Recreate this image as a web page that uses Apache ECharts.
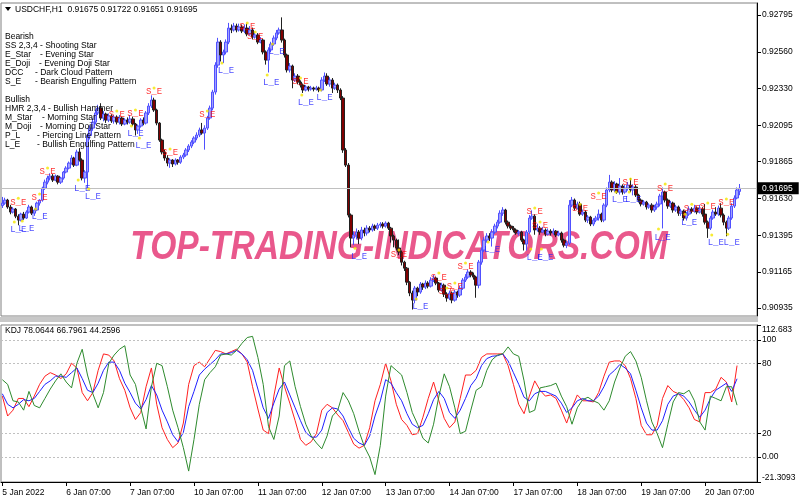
<!DOCTYPE html>
<html><head><meta charset="utf-8">
<script src="https://cdn.jsdelivr.net/npm/echarts@6/dist/echarts.min.js"></script>
<style>html,body{margin:0;padding:0;background:#fff}#c{width:800px;height:500px}</style>
</head><body><div id="c"></div>
<script>
const symbolName = 'USDCHF,H1';
const lastBarText = ['0.91675', '0.91722', '0.91651', '0.91695'];
const timeLabels = ['5 Jan 2022','6 Jan 07:00','7 Jan 07:00','10 Jan 07:00','11 Jan 07:00','12 Jan 07:00','13 Jan 07:00','14 Jan 07:00','17 Jan 07:00','18 Jan 07:00','19 Jan 07:00','20 Jan 07:00'];
const labelEvery = 24;
const slotCount = 284;
const priceMin = 0.908842, priceMax = 0.928712;
const priceTicks = [0.92795,0.92560,0.92330,0.92095,0.91865,0.91630,0.91395,0.91165,0.90935];
const kdjMin = -21.3093, kdjMax = 112.683;
const kdjTicks = [112.683,100,80,20,0,-21.3093];
const kdjLevels = [100,80,20,0];
const kdjLast = [78.0644, 66.7961, 44.2596];
const kdjStep = 2;

const opens = [
0.91585,0.91601,0.91620,0.91576,0.91544,0.91563,0.91518,0.91493,0.91531,0.91506,
0.91544,0.91576,0.91537,0.91557,0.91601,0.91620,0.91696,0.91734,0.91760,0.91772,
0.91747,0.91772,0.91734,0.91760,0.91798,0.91823,0.91855,0.91887,0.91842,0.91925,
0.91874,0.91760,0.91798,0.92030,0.92077,0.92115,0.92173,0.92204,0.92141,0.92166,
0.92128,0.92154,0.92122,0.92147,0.92115,0.92141,0.92103,0.92128,0.92115,0.92135,
0.92103,0.92065,0.92090,0.92128,0.92109,0.92173,0.92217,0.92255,0.92192,0.92109,
0.92001,0.91925,0.91887,0.91855,0.91874,0.91849,0.91874,0.91861,0.91893,0.91906,
0.91938,0.91963,0.91988,0.92014,0.92033,0.92065,0.92046,0.92077,0.92141,0.92204,
0.92306,0.92477,0.92623,0.92541,0.92560,0.92623,0.92712,0.92700,0.92725,0.92700,
0.92719,0.92693,0.92712,0.92674,0.92700,0.92655,0.92668,0.92623,0.92636,0.92560,
0.92509,0.92573,0.92611,0.92649,0.92681,0.92700,0.92636,0.92541,0.92446,0.92471,
0.92382,0.92407,0.92369,0.92350,0.92319,0.92338,0.92325,0.92331,0.92325,0.92331,
0.92319,0.92382,0.92407,0.92357,0.92382,0.92331,0.92350,0.92319,0.92268,0.91938,
0.91842,0.91525,0.91379,0.91398,0.91417,0.91379,0.91430,0.91411,0.91442,0.91430,
0.91455,0.91442,0.91461,0.91468,0.91455,0.91474,0.91442,0.91392,0.91366,0.91316,
0.91290,0.91226,0.91188,0.91099,0.91030,0.90985,0.91061,0.91036,0.91087,0.91068,
0.91093,0.91074,0.91112,0.91125,0.91093,0.91049,0.91080,0.91023,0.90998,0.91030,
0.90985,0.91036,0.91017,0.91061,0.91112,0.91131,0.91163,0.91144,0.91131,0.91080,
0.91226,0.91303,0.91366,0.91392,0.91379,0.91417,0.91455,0.91480,0.91537,0.91557,
0.91480,0.91455,0.91442,0.91430,0.91411,0.91417,0.91366,0.91341,0.91417,0.91506,
0.91518,0.91430,0.91442,0.91417,0.91430,0.91404,0.91423,0.91411,0.91423,0.91398,
0.91411,0.91366,0.91334,0.91347,0.91588,0.91620,0.91569,0.91595,0.91531,0.91544,
0.91493,0.91512,0.91468,0.91493,0.91506,0.91531,0.91493,0.91588,0.91684,0.91734,
0.91684,0.91722,0.91671,0.91709,0.91671,0.91696,0.91715,0.91684,0.91703,0.91652,
0.91620,0.91595,0.91607,0.91576,0.91588,0.91557,0.91576,0.91595,0.91646,0.91671,
0.91620,0.91582,0.91601,0.91557,0.91576,0.91537,0.91550,0.91506,0.91531,0.91563,
0.91550,0.91569,0.91544,0.91563,0.91531,0.91480,0.91442,0.91506,0.91544,0.91531,
0.91569,0.91525,0.91480,0.91442,0.91506,0.91582,0.91633,0.91675];
const highs = [
0.91640,0.91635,0.91628,0.91590,0.91575,0.91570,0.91530,0.91540,0.91545,0.91555,
0.91590,0.91585,0.91565,0.91610,0.91625,0.91705,0.91750,0.91775,0.91790,0.91785,
0.91782,0.91778,0.91768,0.91805,0.91835,0.91865,0.91905,0.91895,0.91940,0.91950,
0.91885,0.91810,0.92040,0.92095,0.92140,0.92195,0.92225,0.92235,0.92185,0.92175,
0.92170,0.92165,0.92160,0.92158,0.92160,0.92150,0.92140,0.92145,0.92160,0.92150,
0.92110,0.92100,0.92140,0.92145,0.92185,0.92235,0.92285,0.92270,0.92200,0.92115,
0.92010,0.91940,0.91905,0.91885,0.91880,0.91885,0.91880,0.91905,0.91920,0.91950,
0.91975,0.92000,0.92025,0.92050,0.92080,0.92110,0.92095,0.92155,0.92220,0.92320,
0.92495,0.92650,0.92635,0.92575,0.92640,0.92745,0.92735,0.92745,0.92740,0.92740,
0.92735,0.92735,0.92740,0.92725,0.92715,0.92690,0.92680,0.92655,0.92645,0.92570,
0.92590,0.92625,0.92665,0.92700,0.92715,0.92780,0.92645,0.92550,0.92490,0.92480,
0.92425,0.92420,0.92380,0.92360,0.92350,0.92345,0.92345,0.92340,0.92345,0.92340,
0.92400,0.92430,0.92425,0.92400,0.92395,0.92365,0.92360,0.92330,0.92280,0.91950,
0.91855,0.91535,0.91420,0.91440,0.91430,0.91450,0.91445,0.91460,0.91455,0.91470,
0.91465,0.91475,0.91480,0.91480,0.91485,0.91482,0.91450,0.91400,0.91375,0.91370,
0.91300,0.91235,0.91195,0.91105,0.91045,0.91075,0.91070,0.91100,0.91095,0.91110,
0.91105,0.91130,0.91145,0.91135,0.91100,0.91095,0.91090,0.91035,0.91045,0.91040,
0.91050,0.91045,0.91075,0.91125,0.91150,0.91180,0.91175,0.91160,0.91140,0.91240,
0.91320,0.91385,0.91410,0.91410,0.91435,0.91470,0.91495,0.91555,0.91575,0.91565,
0.91490,0.91465,0.91455,0.91440,0.91430,0.91425,0.91375,0.91430,0.91525,0.91555,
0.91530,0.91470,0.91455,0.91450,0.91440,0.91440,0.91435,0.91440,0.91430,0.91425,
0.91420,0.91375,0.91360,0.91620,0.91640,0.91630,0.91610,0.91610,0.91560,0.91555,
0.91525,0.91520,0.91505,0.91520,0.91560,0.91540,0.91600,0.91700,0.91780,0.91745,
0.91740,0.91730,0.91760,0.91720,0.91715,0.91735,0.91760,0.91720,0.91715,0.91660,
0.91630,0.91620,0.91615,0.91600,0.91600,0.91590,0.91610,0.91660,0.91700,0.91680,
0.91630,0.91615,0.91610,0.91590,0.91585,0.91565,0.91560,0.91545,0.91580,0.91575,
0.91590,0.91580,0.91590,0.91575,0.91595,0.91490,0.91520,0.91560,0.91575,0.91585,
0.91600,0.91535,0.91490,0.91520,0.91600,0.91650,0.91700,0.91722];
const lows = [
0.91570,0.91590,0.91565,0.91530,0.91535,0.91505,0.91460,0.91485,0.91495,0.91500,
0.91535,0.91525,0.91520,0.91550,0.91585,0.91610,0.91685,0.91720,0.91745,0.91735,
0.91740,0.91720,0.91722,0.91750,0.91790,0.91815,0.91845,0.91830,0.91835,0.91865,
0.91745,0.91730,0.91690,0.92005,0.92060,0.92100,0.92160,0.92128,0.92120,0.92110,
0.92115,0.92110,0.92105,0.92100,0.92100,0.92090,0.92095,0.92100,0.92105,0.92090,
0.92030,0.92040,0.92080,0.92095,0.92100,0.92160,0.92205,0.92180,0.92095,0.91990,
0.91910,0.91870,0.91835,0.91825,0.91830,0.91840,0.91845,0.91850,0.91880,0.91895,
0.91925,0.91950,0.91975,0.92000,0.92020,0.92035,0.91940,0.92065,0.92130,0.92190,
0.92290,0.92460,0.92500,0.92490,0.92545,0.92610,0.92680,0.92690,0.92685,0.92690,
0.92680,0.92680,0.92660,0.92665,0.92640,0.92645,0.92610,0.92615,0.92545,0.92480,
0.92430,0.92560,0.92600,0.92635,0.92670,0.92620,0.92525,0.92430,0.92430,0.92330,
0.92370,0.92355,0.92335,0.92300,0.92310,0.92310,0.92315,0.92310,0.92315,0.92305,
0.92310,0.92370,0.92345,0.92340,0.92300,0.92320,0.92300,0.92255,0.91920,0.91830,
0.91510,0.91320,0.91335,0.91370,0.91340,0.91365,0.91390,0.91395,0.91415,0.91420,
0.91425,0.91430,0.91445,0.91440,0.91445,0.91430,0.91350,0.91320,0.91300,0.91270,
0.91205,0.91170,0.91080,0.91010,0.90925,0.90965,0.91010,0.91025,0.91050,0.91055,
0.91060,0.91065,0.91100,0.91080,0.91035,0.91040,0.91005,0.90975,0.90985,0.90965,
0.90975,0.91000,0.91005,0.91050,0.91100,0.91120,0.91130,0.91115,0.91000,0.91060,
0.91210,0.91290,0.91350,0.91360,0.91325,0.91405,0.91440,0.91470,0.91520,0.91465,
0.91440,0.91430,0.91415,0.91400,0.91395,0.91355,0.91300,0.91300,0.91405,0.91495,
0.91400,0.91420,0.91400,0.91410,0.91390,0.91395,0.91395,0.91400,0.91385,0.91390,
0.91350,0.91320,0.91315,0.91335,0.91575,0.91555,0.91560,0.91520,0.91520,0.91480,
0.91475,0.91455,0.91455,0.91480,0.91490,0.91480,0.91480,0.91575,0.91670,0.91670,
0.91670,0.91660,0.91655,0.91655,0.91660,0.91680,0.91670,0.91650,0.91640,0.91605,
0.91580,0.91585,0.91560,0.91565,0.91540,0.91545,0.91560,0.91580,0.91440,0.91605,
0.91565,0.91570,0.91540,0.91545,0.91520,0.91520,0.91490,0.91490,0.91520,0.91535,
0.91540,0.91530,0.91535,0.91515,0.91465,0.91380,0.91430,0.91495,0.91520,0.91520,
0.91510,0.91460,0.91390,0.91430,0.91495,0.91570,0.91625,0.91651];
const closes = [
0.91601,0.91620,0.91576,0.91544,0.91563,0.91518,0.91493,0.91531,0.91506,0.91544,
0.91576,0.91537,0.91557,0.91601,0.91620,0.91696,0.91734,0.91760,0.91772,0.91747,
0.91772,0.91734,0.91760,0.91798,0.91823,0.91855,0.91887,0.91842,0.91925,0.91874,
0.91760,0.91798,0.92030,0.92077,0.92115,0.92173,0.92204,0.92141,0.92166,0.92128,
0.92154,0.92122,0.92147,0.92115,0.92141,0.92103,0.92128,0.92115,0.92135,0.92103,
0.92065,0.92090,0.92128,0.92109,0.92173,0.92217,0.92255,0.92192,0.92109,0.92001,
0.91925,0.91887,0.91855,0.91874,0.91849,0.91874,0.91861,0.91893,0.91906,0.91938,
0.91963,0.91988,0.92014,0.92033,0.92065,0.92046,0.92077,0.92141,0.92204,0.92306,
0.92477,0.92623,0.92541,0.92560,0.92623,0.92712,0.92700,0.92725,0.92700,0.92719,
0.92693,0.92712,0.92674,0.92700,0.92655,0.92668,0.92623,0.92636,0.92560,0.92509,
0.92573,0.92611,0.92649,0.92681,0.92700,0.92636,0.92541,0.92446,0.92471,0.92382,
0.92407,0.92369,0.92350,0.92319,0.92338,0.92325,0.92331,0.92325,0.92331,0.92319,
0.92382,0.92407,0.92357,0.92382,0.92331,0.92350,0.92319,0.92268,0.91938,0.91842,
0.91525,0.91379,0.91398,0.91417,0.91379,0.91430,0.91411,0.91442,0.91430,0.91455,
0.91442,0.91461,0.91468,0.91455,0.91474,0.91442,0.91392,0.91366,0.91316,0.91290,
0.91226,0.91188,0.91099,0.91030,0.90985,0.91061,0.91036,0.91087,0.91068,0.91093,
0.91074,0.91112,0.91125,0.91093,0.91049,0.91080,0.91023,0.90998,0.91030,0.90985,
0.91036,0.91017,0.91061,0.91112,0.91131,0.91163,0.91144,0.91131,0.91080,0.91226,
0.91303,0.91366,0.91392,0.91379,0.91417,0.91455,0.91480,0.91537,0.91557,0.91480,
0.91455,0.91442,0.91430,0.91411,0.91417,0.91366,0.91341,0.91417,0.91506,0.91518,
0.91430,0.91442,0.91417,0.91430,0.91404,0.91423,0.91411,0.91423,0.91398,0.91411,
0.91366,0.91334,0.91347,0.91588,0.91620,0.91569,0.91595,0.91531,0.91544,0.91493,
0.91512,0.91468,0.91493,0.91506,0.91531,0.91493,0.91588,0.91684,0.91734,0.91684,
0.91722,0.91671,0.91709,0.91671,0.91696,0.91715,0.91684,0.91703,0.91652,0.91620,
0.91595,0.91607,0.91576,0.91588,0.91557,0.91576,0.91595,0.91646,0.91671,0.91620,
0.91582,0.91601,0.91557,0.91576,0.91537,0.91550,0.91506,0.91531,0.91563,0.91550,
0.91569,0.91544,0.91563,0.91531,0.91480,0.91442,0.91506,0.91544,0.91531,0.91569,
0.91525,0.91480,0.91442,0.91506,0.91582,0.91633,0.91684,0.91695];

// KDJ values sampled every kdjStep bars
const kValues = [
52,35,40,50,50,43,52,62,69,72, 70,67,71,80,76,55,48,55,74,88,
87,82,67,57,42,32,38,60,76,45, 25,15,8,12,29,62,78,81,77,84,
91,90,88,90,92,88,81,60,41,23, 20,52,76,60,46,31,15,10,13,20,
40,45,42,36,31,21,11,7.6,10,25, 48,62,80,65,45,32,27,19,20,34,
50,64,48,33,25,30,50,70,70,74, 85,88,88,88,88,78,62,45,37,52,
65,57,52,53,50,40,29,42,53,48, 48,47,55,69,81,82,82,78,67,50,
27,19,19,27,50,61,56,54,49,42, 32,30,55,55,58,68,64,47,78.0644];
const dValues = [
54,45,42,45,49,48,50,56,62,65, 69,69,68,72,76,67,57,55,63,74,
81,81,74,63,55,46,41,49,61,53, 40,30,19,13,21,43,56,70,75,79,
83,88,88,89,91,88,83,74,58,42, 33,46,58,64,53,42,31,21,17,17,
23,38,42,41,35,25,16,12,10,18, 35,48,66,63,55,48,37,28,25,27,
37,49,56,50,38,33,40,50,61,67, 78,84,86,86.5,88,82,72,62,51,48,
54,56,56,54,52,46,38,42,48,50, 48,48,52,60,70,74,79,76,71,57,
42,29,23,23,31,45,52,54,52,47, 40,34,40,50,57,60,63,56,66.7961];
const jValues = [
66,62,48,47,40,56,44,42,50,58, 65,71,64,59,80,92,70,54,42,55,
80,87,92,95,70,62,42,24,60,80, 78,60,40,25,8,-12,15,45,66,72,
77,87,88,87,91,97,102,103,85,62, 26,15,35,78,82,60,43,28,18,12,
7,18,35,40,55,48,37,22,9,0, -15,10,52,78,74,70,55,38,28,16,
12,28,52,71,60,42,20,22,40,57, 60,74,83,87,88,94,88,86,65,38,
40,59,60,61,63,52,43,28,42,49, 51,48,46,40,48,64,76,86,90,82,
68,48,30,20,8,28,47,55,54,57, 48,30,23,52,50,48,60,60,44.2596];

// pattern markers (bar index, price of label)
const seBars = [6,14,17,43,50,57,63,77,92,95,112,149,164,167,170,174,200,202,217,224,236,249,259,265,272];
const sePrices = [0.91607,0.91633,0.91798,0.92160,0.92166,0.92306,0.91919,0.92160,0.92719,0.92661,0.92369,0.91277,0.91131,0.91036,0.91068,0.91195,0.91544,0.91455,0.91569,0.91639,0.91728,0.91696,0.91569,0.91576,0.91601];
const leBars = [6,9,14,30,34,50,53,84,101,103,114,121,134,157,184,200,204,232,237,248,258,268,274];
const lePrices = [0.91430,0.91436,0.91512,0.91696,0.91639,0.92039,0.91963,0.92439,0.92363,0.92560,0.92236,0.92268,0.91264,0.90941,0.91303,0.91258,0.91258,0.91620,0.91620,0.91385,0.91480,0.91347,0.91353];

const bearishRows = [['Bearish',''],['SS 2,3,4 - Shooting Star',''],['E_Star','- Evening Star'],['E_Doji','- Evening Doji Star'],['DCC','- Dark Cloud Pattern'],['S_E','- Bearish Engulfing Pattern']];
const bullishRows = [['Bullish',''],['HMR 2,3,4 - Bullish Hammer',''],['M_Star','- Morning Star'],['M_Doji','- Morning Doji Star'],['P_L','- Piercing Line Pattern'],['L_E','- Bullish Engulfing Pattern']];
const watermark = 'TOP-TRADING-INDICATORS.COM';

const chart = echarts.init(document.getElementById('c'), null, {renderer: 'canvas'});
const lastIdx = closes.length - 1;
const lastClose = closes[lastIdx];
const cats = Array.from({length: slotCount}, (_, i) => String(i));
const candles = opens.map((o, i) => [o, closes[i], lows[i], highs[i]]);
const showTick = (i) => i % labelEvery === 0 && (i / labelEvery) < timeLabels.length;
const toPts = (arr) => arr.map((v, k) => [k * kdjStep, v]);
const FONT = '"Liberation Sans", Arial, sans-serif';
const FS = 8.5;

const txt = (x, y, s, extra) => ({
  type: 'text', x: x, y: y, silent: true, z: 50,
  style: Object.assign({text: s, fill: '#000', font: FS + 'px ' + FONT, textVerticalAlign: 'middle', verticalAlign: 'middle'}, extra || {})
});

const graphics = [];
graphics.push({type: 'rect', silent: true, z: 0, shape: {x: 0, y: 317, width: 758, height: 5}, style: {fill: '#c8c8c8'}});
graphics.push({type: 'text', x: 399, y: 248, silent: true, z: 1, scaleX: 0.84,
  style: {text: watermark, fill: '#e9588c', font: 'italic bold 40px ' + FONT, textAlign: 'center', align: 'center', textVerticalAlign: 'middle', verticalAlign: 'middle'}});
graphics.push({type: 'polygon', silent: true, z: 50, shape: {points: [[5, 7], [11, 7], [8, 11]]}, style: {fill: '#000'}});
graphics.push(txt(15, 9.5, symbolName + '  ' + lastBarText.join(' ')));
const bearDash = [0, 0, 40, 39, 35, 35];
const bullDash = [0, 0, 42, 40, 37, 37];
bearishRows.forEach((r, k) => {
  graphics.push(txt(5, 36.5 + k * 9, r[0]));
  if (r[1]) graphics.push(txt(bearDash[k], 36.5 + k * 9, r[1]));
});
bullishRows.forEach((r, k) => {
  graphics.push(txt(5, 99.3 + k * 9, r[0]));
  if (r[1]) graphics.push(txt(bullDash[k], 99.3 + k * 9, r[1]));
});
graphics.push(txt(5, 331, 'KDJ ' + kdjLast.map(v => v.toFixed(4)).join(' ')));

const markerLabel = (name, bars, prices, color, dotOff, extra) => [
  Object.assign({type: 'scatter', xAxisIndex: 0, yAxisIndex: 0, silent: true, z: 6,
   data: bars.map((b, i) => [b, prices[i]]), symbol: 'circle', symbolSize: 0,
   label: {show: true, position: 'inside', formatter: name, color: color, fontFamily: '"Liberation Mono", monospace', fontSize: 9}}, extra || {}),
  {type: 'scatter', xAxisIndex: 0, yAxisIndex: 0, silent: true, z: 7,
   data: bars.map((b, i) => [b, prices[i]]), symbol: 'circle', symbolSize: 3, symbolOffset: dotOff,
   itemStyle: {color: '#f5e600'}}
];

const priceLine = {
  markLine: {silent: true, symbol: 'none', animation: false, precision: 5,
    data: [{yAxis: lastClose}],
    lineStyle: {color: '#c0c0c0', type: 'solid', width: 1},
    label: {show: true, position: 'end', distance: 1, formatter: () => lastClose.toFixed(5),
      backgroundColor: '#000', color: '#fff', padding: [2, 6, 1, 4], fontSize: FS, fontFamily: FONT}}
};

const option = {
  animation: false,
  backgroundColor: '#fff',
  graphic: graphics,
  grid: [
    {left: 1, right: 43, top: 3, height: 313, show: true, borderColor: '#808080', borderWidth: 1, outerBoundsMode: 'none', containLabel: false},
    {left: 1, right: 43, top: 325, height: 157, show: true, borderColor: '#808080', borderWidth: 1, outerBoundsMode: 'none', containLabel: false}
  ],
  xAxis: [
    {type: 'category', gridIndex: 0, data: cats, boundaryGap: true,
     axisLine: {show: false, onZero: false}, axisTick: {show: false}, axisLabel: {show: false}, splitLine: {show: false}},
    {type: 'category', gridIndex: 1, data: cats, boundaryGap: true,
     axisLine: {show: true, onZero: false, lineStyle: {color: '#000', width: 1}},
     axisTick: {show: true, interval: showTick, alignWithLabel: true, length: 4, lineStyle: {color: '#000'}},
     axisLabel: {show: true, interval: showTick, formatter: (v, i) => timeLabels[Math.round(i / labelEvery)],
       align: 'left', margin: 6, color: '#000', fontSize: FS, fontFamily: FONT},
     splitLine: {show: false}}
  ],
  yAxis: [
    {type: 'value', gridIndex: 0, position: 'right', min: priceMin, max: priceMax, scale: true,
     axisLine: {show: true, lineStyle: {color: '#000'}},
     axisTick: {show: true, customValues: priceTicks, length: 4, lineStyle: {color: '#000'}},
     axisLabel: {show: true, customValues: priceTicks, formatter: v => v.toFixed(5), color: '#000', fontSize: FS, fontFamily: FONT, margin: 5},
     splitLine: {show: false}},
    {type: 'value', gridIndex: 1, position: 'right', min: kdjMin, max: kdjMax,
     axisLine: {show: true, lineStyle: {color: '#000'}},
     axisTick: {show: true, customValues: kdjTicks, length: 4, lineStyle: {color: '#000'}},
     axisLabel: {show: true, customValues: kdjTicks, color: '#000', fontSize: FS, fontFamily: FONT, margin: 5,
       formatter: v => {
         if (v === kdjTicks[0]) return '{t|' + v + '}';
         if (v === kdjTicks[kdjTicks.length - 1]) return '{b|' + v + '}';
         return v === 0 ? '0.00' : String(v);
       },
       rich: {t: {padding: [10, 0, 0, 0], fontSize: FS, fontFamily: FONT, color: '#000'},
              b: {padding: [0, 0, 8, 0], fontSize: FS, fontFamily: FONT, color: '#000'}}},
     splitLine: {show: false}}
  ],
  series: [
    {type: 'candlestick', xAxisIndex: 0, yAxisIndex: 0, data: candles, barWidth: 3, z: 3,
     itemStyle: {color: '#a0a0ff', color0: '#800000', borderColor: '#5050ff', borderColor0: '#202020', borderWidth: 1}},
    ...markerLabel('S_E', seBars, sePrices, '#ff0000', [0, -4], priceLine),
    ...markerLabel('L_E', leBars, lePrices, '#2020ff', [-4, -8]),
    {type: 'line', name: 'K', xAxisIndex: 1, yAxisIndex: 1, data: toPts(kValues), showSymbol: false, symbol: 'none',
     lineStyle: {color: '#ff2020', width: 1}, z: 3,
     markLine: {silent: true, symbol: 'none', animation: false, precision: 2, label: {show: false},
       lineStyle: {color: '#c0c0c0', type: [2, 2], width: 1},
       data: kdjLevels.map(v => ({yAxis: v}))}},
    {type: 'line', name: 'D', xAxisIndex: 1, yAxisIndex: 1, data: toPts(dValues), showSymbol: false, symbol: 'none',
     lineStyle: {color: '#2020ff', width: 1}, z: 4},
    {type: 'line', name: 'J', xAxisIndex: 1, yAxisIndex: 1, data: toPts(jValues), showSymbol: false, symbol: 'none',
     lineStyle: {color: '#2e8b2e', width: 1}, z: 5}
  ]
};
chart.setOption(option);
</script>
</body></html>
